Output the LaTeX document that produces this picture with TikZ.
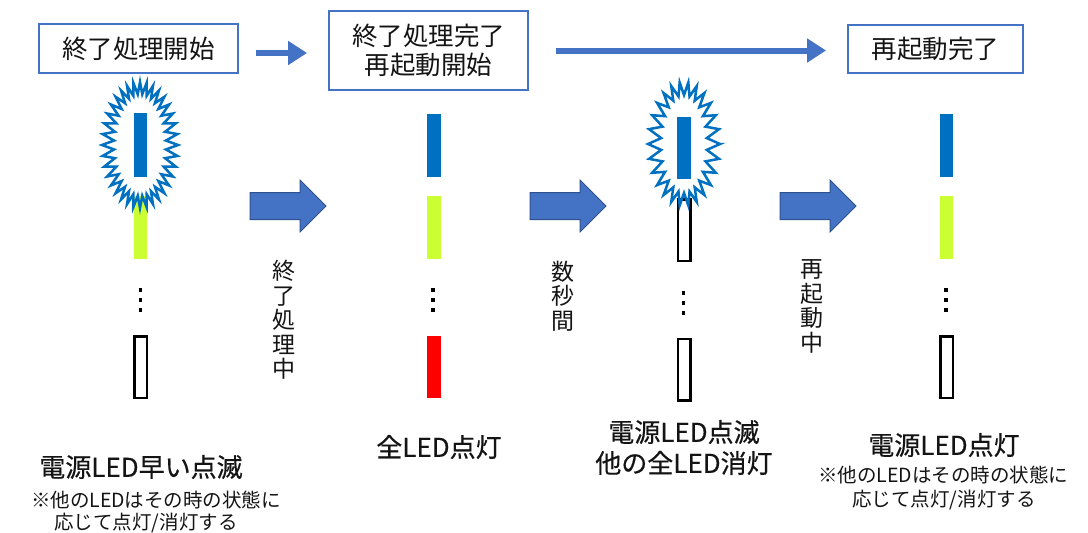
\documentclass[tikz,border=0pt]{standalone}
\usepackage{fontspec}
\setmainfont{Noto Sans CJK JP}
\newfontfamily\semibold[FakeBold=0.45]{Noto Sans CJK JP}
\usetikzlibrary{arrows.meta}
\definecolor{boxblue}{HTML}{4472C4}
\definecolor{arrborder}{HTML}{2F528F}
\definecolor{ledblue}{HTML}{0070C0}
\definecolor{ledgreen}{HTML}{CCFF33}
\definecolor{ledred}{HTML}{FF0000}
\definecolor{txt}{HTML}{141414}
\newcommand{\myburst}[7]{%
  \draw[burstline, shift={(#1,#2)}] plot[samples=#7*2+1, domain=0:360, variable=\t]
    ({cos(\t)*(#5+(#3-#5)*(1+cos(#7*\t))/2)}, {sin(\t)*(#6+(#4-#6)*(1+cos(#7*\t))/2)}) -- cycle;}
\newcommand{\blockarrow}[2]{%
  \draw[blockarr, shift={(#1,#2)}] (0,-13.5) -- (50,-13.5) -- (50,-26) -- (76,0) -- (50,26) -- (50,13.5) -- (0,13.5) -- cycle;}
\newcommand{\ledots}[2]{%
  \foreach \dy in {0,10,20} {\fill[black] (#1-1.75,#2+\dy-1.75) rectangle ++(3.5,3.5);}}
\begin{document}
\begin{tikzpicture}[x=1pt,y=-1pt,
  titlebox/.style={draw=boxblue, line width=1.8pt, inner sep=0pt, text=txt, align=center,
    font=\fontsize{25.5pt}{29pt}\selectfont},
  toparrow/.style={draw=boxblue, line width=6pt, -{Triangle[length=19pt,width=23pt]}},
  blockarr/.style={fill=boxblue, draw=arrborder, line width=1pt},
  burstline/.style={draw=ledblue, line width=2.5pt, line join=miter},
  ledbar/.style={inner sep=0pt, minimum width=13.5pt, draw=none},
  ledoff/.style={inner sep=0pt, minimum width=12.5pt, minimum height=61.5pt, draw=black, line width=2.5pt, fill=white},
  vtext/.style={text=txt, align=center, inner sep=0pt, font=\fontsize{23pt}{24.5pt}\selectfont},
  mainlabel/.style={text=txt, inner sep=0pt, align=center, font=\semibold\fontsize{26pt}{31pt}\selectfont},
  sublabel/.style={text=txt, inner sep=0pt, font=\fontsize{19.5pt}{23pt}\selectfont}
]
\useasboundingbox (0,0) rectangle (1088,533);
\fill[white] (0,0) rectangle (1088,533);

% top boxes
\node[titlebox, minimum width=199pt, minimum height=49pt] (box1) at (138.5,48.5) {終了処理開始};
\node[titlebox, minimum width=199pt, minimum height=79pt] (box2) at (428.5,50.5) {終了処理完了\\再起動開始};
\node[titlebox, minimum width=175pt, minimum height=48pt] (box3) at (935.5,49) {再起動完了};
\draw[toparrow, shorten <=17pt, shorten >=21pt] ([yshift=-4.5pt]box1.east) -- ([yshift=-4.5pt]box1.east -| box2.west);
\draw[toparrow, shorten <=27pt, shorten >=21pt] (box2.east) -- (box2.east -| box3.west);

% column 1
\node[ledbar, fill=ledblue, minimum height=64pt] (c1blue) at (140.5,145) {};
\node[ledbar, fill=ledgreen, minimum height=63pt] (c1green) at (140.5,227.5) {};
\ledots{140.5}{290}
\node[ledoff] (c1off) at (140.5,367) {};
\myburst{140}{145}{38}{63}{26}{51}{36}

% column 2
\node[ledbar, fill=ledblue, minimum height=63pt] (c2blue) at (434,145.5) {};
\node[ledbar, fill=ledgreen, minimum height=63pt] (c2green) at (434,227.5) {};
\ledots{433}{290}
\node[ledbar, fill=ledred, minimum height=62pt] (c2red) at (434,367) {};

% column 3
\node[ledbar, fill=ledblue, minimum height=62pt] (c3blue) at (684,148) {};
\node[ledoff] (c3off1) at (684,230) {};
\ledots{683.5}{293}
\node[ledoff] (c3off2) at (684,369.5) {};
\myburst{684}{144}{36}{62}{23}{49}{26}

% column 4
\node[ledbar, fill=ledblue, minimum height=63pt] (c4blue) at (946.5,145.5) {};
\node[ledbar, fill=ledgreen, minimum height=63pt] (c4green) at (946.5,227.5) {};
\ledots{946}{290}
\node[ledoff] (c4off) at (946.5,367) {};

% block arrows
\blockarrow{250}{206}
\blockarrow{530}{206}
\blockarrow{780}{206}

% vertical texts
\node[vtext] (v1) at (283.5,320) {終\\了\\処\\理\\中};
\node[vtext] (v2) at (563,296) {数\\秒\\間};
\node[vtext] (v3) at (812,306.5) {再\\起\\動\\中};

% bottom labels
\node[mainlabel] (l1) at (141,467) {電源LED早い点滅};
\node[sublabel] (l1a) at (156,500) {※他のLEDはその時の状態に};
\node[sublabel] (l1b) at (146,523) {応じて点灯/消灯する};
\node[mainlabel] (l2) at (439,447) {全LED点灯};
\node[mainlabel] (l3) at (684,447.5) {電源LED点滅\\他の全LED消灯};
\node[mainlabel] (l4) at (944,445) {電源LED点灯};
\node[sublabel] (l4a) at (943,475) {※他のLEDはその時の状態に};
\node[sublabel] (l4b) at (944,500) {応じて点灯/消灯する};
\end{tikzpicture}
\end{document}
